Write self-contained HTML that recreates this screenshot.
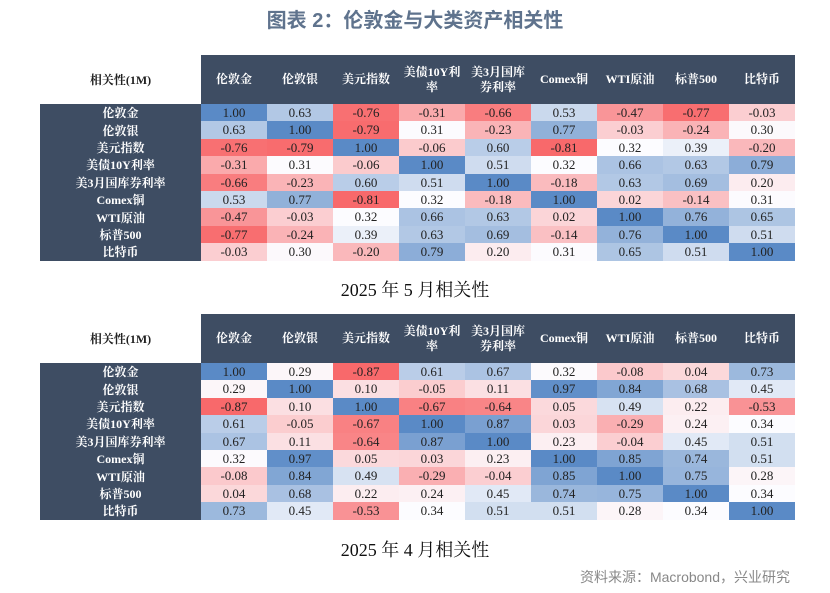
<!DOCTYPE html>
<html><head><meta charset="utf-8">
<style>
body{margin:0;width:830px;height:593px;background:#fff;position:relative;overflow:hidden;font-family:"Liberation Serif","Noto Serif CJK SC",serif}
.abs{position:absolute}
.title{left:0;width:830px;top:4px;text-align:center;font:bold 20px "Liberation Sans","Noto Sans CJK SC",sans-serif;color:#5f738d}
.hdr{background:#3e4d63}
.hc{color:#fff;font-weight:bold;font-size:12px;display:flex;align-items:center;justify-content:center;text-align:center;line-height:15px}
.lc{color:#fff;font-weight:bold;font-size:12px;display:flex;align-items:center;justify-content:center;background:#3e4d63}
.cell{font-size:13px;display:flex;align-items:center;justify-content:center;color:#222}
.cap{left:0;width:830px;text-align:center;font-size:18px;color:#111}
.src{right:40px;top:567px;font:14px "Liberation Sans","Noto Sans CJK SC",sans-serif;color:#888}
.corner{font-weight:bold;font-size:12px;display:flex;align-items:center;justify-content:center;color:#222}
</style></head><body>
<div class="abs title">图表 2：伦敦金与大类资产相关性</div>
<div id="t1"></div>
<div id="t2"></div>
<div class="abs cap" style="top:276px">2025 年 5 月相关性</div>
<div class="abs cap" style="top:536px">2025 年 4 月相关性</div>
<div class="abs src">资料来源：Macrobond，兴业研究</div>
<script>
const colLabels=["伦敦金","伦敦银","美元指数","美债10Y利<br>率","美3月国库<br>券利率","Comex铜","WTI原油","标普500","比特币"];
const rowLabels=["伦敦金","伦敦银","美元指数","美债10Y利率","美3月国库券利率","Comex铜","WTI原油","标普500","比特币"];
const mayValues=[
[1.00,0.63,-0.76,-0.31,-0.66,0.53,-0.47,-0.77,-0.03],
[0.63,1.00,-0.79,0.31,-0.23,0.77,-0.03,-0.24,0.30],
[-0.76,-0.79,1.00,-0.06,0.60,-0.81,0.32,0.39,-0.20],
[-0.31,0.31,-0.06,1.00,0.51,0.32,0.66,0.63,0.79],
[-0.66,-0.23,0.60,0.51,1.00,-0.18,0.63,0.69,0.20],
[0.53,0.77,-0.81,0.32,-0.18,1.00,0.02,-0.14,0.31],
[-0.47,-0.03,0.32,0.66,0.63,0.02,1.00,0.76,0.65],
[-0.77,-0.24,0.39,0.63,0.69,-0.14,0.76,1.00,0.51],
[-0.03,0.30,-0.20,0.79,0.20,0.31,0.65,0.51,1.00]];
const aprValues=[
[1.00,0.29,-0.87,0.61,0.67,0.32,-0.08,0.04,0.73],
[0.29,1.00,0.10,-0.05,0.11,0.97,0.84,0.68,0.45],
[-0.87,0.10,1.00,-0.67,-0.64,0.05,0.49,0.22,-0.53],
[0.61,-0.05,-0.67,1.00,0.87,0.03,-0.29,0.24,0.34],
[0.67,0.11,-0.64,0.87,1.00,0.23,-0.04,0.45,0.51],
[0.32,0.97,0.05,0.03,0.23,1.00,0.85,0.74,0.51],
[-0.08,0.84,0.49,-0.29,-0.04,0.85,1.00,0.75,0.28],
[0.04,0.68,0.22,0.24,0.45,0.74,0.75,1.00,0.34],
[0.73,0.45,-0.53,0.34,0.51,0.51,0.28,0.34,1.00]];

function lerp(a,b,t){return a.map((v,i)=>Math.round(v+(b[i]-v)*t));}
function colorFor(v,mn,md,mx){
 const R=[248,105,107],W=[252,252,255],B=[90,138,198];
 let c=v<md?lerp(R,W,(v-mn)/(md-mn)):lerp(W,B,(v-md)/(mx-md));
 return `rgb(${c[0]},${c[1]},${c[2]})`;
}
function build(id,vals,top){
 const root=document.getElementById(id);
 const L=40,X0=201,CW=66,HH=49,RH=17.4,LW=X0-L;
 const flat=vals.flat().slice().sort((a,b)=>a-b);
 const mn=flat[0],mx=flat[flat.length-1],md=flat[Math.floor(flat.length/2)];
 const corner=document.createElement('div');
 
 
 corner.className='abs corner';
 corner.style.cssText=`left:${L}px;top:${top}px;width:${LW}px;height:${HH}px`;
 corner.textContent='相关性(1M)';root.appendChild(corner);
 const hb=document.createElement('div');
 
 
 hb.className='abs hdr';
 hb.style.cssText=`left:${X0}px;top:${top}px;width:${CW*9}px;height:${HH}px`;root.appendChild(hb);
 colLabels.forEach((t,j)=>{
  const d=document.createElement('div');
  
  
  d.className='abs hc';
  d.style.cssText=`left:${X0+j*CW}px;top:${top}px;width:${CW}px;height:${HH}px`;
  d.innerHTML=t;root.appendChild(d);
 });
 const lb=document.createElement('div');
 
 
 lb.className='abs lc';
 lb.style.cssText=`left:${L}px;top:${top+HH}px;width:${LW}px;height:${RH*9}px`;root.appendChild(lb);
 rowLabels.forEach((t,i)=>{
  const d=document.createElement('div');
  
  
  d.className='abs lc';
  d.style.cssText=`left:${L}px;top:${top+HH+i*RH}px;width:${LW}px;height:${RH}px`;
  d.textContent=t;root.appendChild(d);
  vals[i].forEach((v,j)=>{
   const c=document.createElement('div');
   
   
   c.className='abs cell';
   c.style.cssText=`left:${X0+j*CW}px;top:${top+HH+i*RH}px;width:${CW}px;height:${RH+0.5}px;background:${colorFor(v,mn,md,mx)}`;
   c.textContent=v.toFixed(2);root.appendChild(c);
  });
 });
}
build('t1',mayValues,55);
build('t2',aprValues,314);
</script>
</body></html>
